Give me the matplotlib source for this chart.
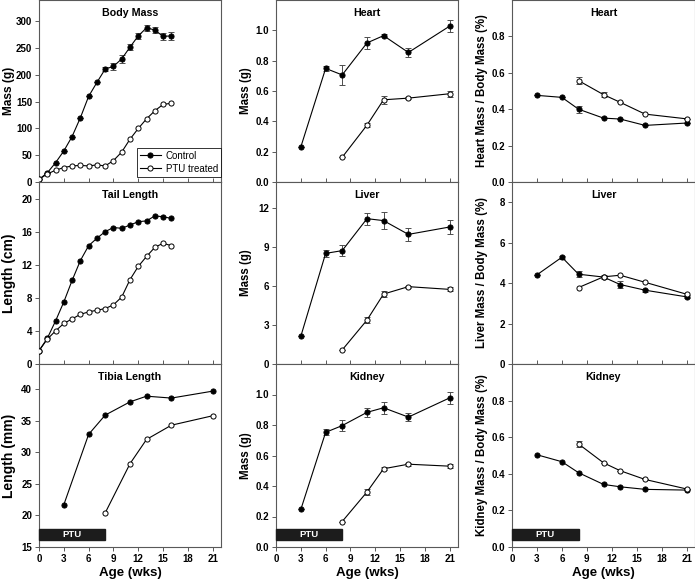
import numpy as np
import matplotlib
matplotlib.use("Agg")
import matplotlib.pyplot as plt
import matplotlib.transforms as mtransforms
from matplotlib.patches import Rectangle

plt.rcParams['font.family'] = ['Liberation Sans', 'DejaVu Sans']
plt.rcParams['font.weight'] = 'bold'

# weekly growth data (left column)
wk = [0, 1, 2, 3, 4, 5, 6, 7, 8, 9, 10, 11, 12, 13, 14, 15, 16]
bm_ctl = [5, 17, 36, 58, 85, 120, 160, 186, 211, 216, 230, 252, 273, 288, 284, 272, 273]
bm_ctl_err = [0, 0, 0, 0, 0, 0, 0, 0, 4, 6, 7, 6, 5, 5, 6, 7, 7]
bm_ptu = [5, 15, 22, 27, 30, 31, 30, 32, 30, 40, 56, 80, 100, 118, 133, 145, 147]
tail_ctl = [1.6, 3.1, 5.2, 7.5, 10.1, 12.5, 14.3, 15.2, 16.0, 16.5, 16.4, 16.8, 17.2, 17.3, 17.9, 17.8, 17.6]
tail_ptu = [1.6, 3.0, 4.0, 4.9, 5.45, 6.0, 6.3, 6.5, 6.7, 7.15, 8.1, 10.2, 11.8, 13.0, 14.1, 14.6, 14.3]

# sampled ages (organ data)
age_ctl = [3, 6, 8, 11, 13, 16, 21]
age_ptu = [8, 11, 13, 16, 21]

tibia_ctl = [21.7, 32.85, 35.9, 38.0, 38.9, 38.6, 39.7]
tibia_ptu = [20.4, 28.2, 32.05, 34.3, 35.8]

heart_ctl = [0.231, 0.749, 0.706, 0.917, 0.965, 0.854, 1.028]
heart_ctl_err = [0, 0.015, 0.068, 0.042, 0.012, 0.027, 0.041]
heart_ptu = [0.163, 0.375, 0.542, 0.553, 0.582]
heart_ptu_err = [0, 0.015, 0.025, 0.008, 0.02]

liver_ctl = [2.13, 8.51, 8.72, 11.18, 11.03, 9.97, 10.54]
liver_ctl_err = [0, 0.25, 0.45, 0.45, 0.63, 0.5, 0.55]
liver_ptu = [1.08, 3.38, 5.38, 5.95, 5.74]
liver_ptu_err = [0, 0.25, 0.2, 0.08, 0.15]

kidney_ctl = [0.246, 0.752, 0.796, 0.883, 0.913, 0.852, 0.978]
kidney_ctl_err = [0, 0.02, 0.035, 0.03, 0.04, 0.025, 0.04]
kidney_ptu = [0.167, 0.361, 0.513, 0.543, 0.530]
kidney_ptu_err = [0, 0.02, 0.01, 0.01, 0.012]

heart_r_ctl = [0.476, 0.465, 0.40, 0.351, 0.346, 0.311, 0.324]
heart_r_ctl_err = [0, 0, 0.02, 0, 0, 0, 0]
heart_r_ptu = [0.557, 0.480, 0.438, 0.373, 0.347]
heart_r_ptu_err = [0.02, 0.015, 0, 0, 0]

liver_r_ctl = [4.41, 5.28, 4.44, 4.30, 3.93, 3.65, 3.32]
liver_r_ctl_err = [0, 0.08, 0.15, 0.1, 0.15, 0.08, 0.08]
liver_r_ptu = [3.78, 4.31, 4.39, 4.04, 3.45]

kidney_r_ctl = [0.504, 0.466, 0.406, 0.342, 0.329, 0.315, 0.311]
kidney_r_ptu = [0.563, 0.460, 0.417, 0.369, 0.317]
kidney_r_ptu_err = [0.015, 0, 0, 0, 0]

fig = plt.figure(figsize=(6.95, 5.82), dpi=100)

W, H = 695.0, 582.0
lefts = [39, 276, 512]
widths = [182, 182, 183]
rows = [(0, 182), (182, 364), (364, 547)]

axes = []
for r in range(3):
    row = []
    for c in range(3):
        top, bot = rows[r]
        ax = fig.add_axes([lefts[c] / W, (H - bot) / H, widths[c] / W, (bot - top) / H])
        row.append(ax)
    axes.append(row)


def series(ax, x, y, err=None, filled=True, label=None):
    fc = 'black' if filled else 'white'
    if err is not None:
        ax.errorbar(x, y, yerr=err, fmt='none', ecolor='0.3', elinewidth=0.7,
                    capsize=2.3, capthick=0.7, zorder=2)
    ax.plot(x, y, '-', color='black', lw=0.8, marker='o', ms=3.7,
            mfc=fc, mec='black', mew=0.7, zorder=3, label=label)


def style(ax, title, ylim, yticks, ylabel, bottom, ylsize=8.3, labx=-0.165):
    ax.set_xlim(0, 22)
    ax.set_ylim(*ylim)
    ax.set_yticks(yticks)
    ax.set_xticks(range(0, 22, 3))
    for s in ax.spines.values():
        s.set_color('0.35')
        s.set_linewidth(0.8)
    ax.tick_params(axis='y', direction='out', length=3, width=0.7, color='0.35',
                   labelsize=7, pad=2)
    if bottom:
        ax.tick_params(axis='x', direction='out', length=3, width=0.7, color='0.35',
                       labelsize=7, pad=2)
        ax.set_xlabel('Age (wks)', fontsize=9.6, fontweight='bold', labelpad=2)
    else:
        ax.tick_params(axis='x', direction='in', length=3, width=0.7, color='0.35',
                       labelbottom=False)
    ax.text(0.5, 0.93, title, transform=ax.transAxes, ha='center', va='center',
            fontsize=7.7, fontweight='bold')
    ax.set_ylabel(ylabel, fontsize=ylsize, fontweight='bold', va='center')
    ax.yaxis.set_label_coords(labx, 0.5)


def ptu_bar(ax):
    tr = mtransforms.blended_transform_factory(ax.transData, ax.transAxes)
    ax.add_patch(Rectangle((0, 0.038), 8, 0.06, transform=tr, color='#1c1c1c',
                           clip_on=False, zorder=4))
    ax.text(4, 0.068, 'PTU', transform=tr, color='white', ha='center', va='center',
            fontsize=6.8, fontweight='bold', zorder=5)


# left column
ax = axes[0][0]
series(ax, wk, bm_ctl, bm_ctl_err, True, 'Control')
series(ax, wk, bm_ptu, None, False, 'PTU treated')
style(ax, 'Body Mass', (0, 340), range(0, 301, 50), 'Mass (g)', False, ylsize=8.6)
leg = ax.legend(loc='lower right', bbox_to_anchor=(1.0, 0.03), fontsize=7,
                frameon=True, fancybox=False, borderaxespad=0, handlelength=2.2,
                borderpad=0.3, labelspacing=0.3, handletextpad=0.5)
leg.get_frame().set_edgecolor('black')
leg.get_frame().set_linewidth(0.7)
for t in leg.get_texts():
    t.set_fontweight('normal')

ax = axes[1][0]
series(ax, wk, tail_ctl, None, True)
series(ax, wk, tail_ptu, None, False)
style(ax, 'Tail Length', (0, 22), range(0, 21, 4), 'Length (cm)', False, ylsize=10)

ax = axes[2][0]
series(ax, age_ctl, tibia_ctl, None, True)
series(ax, age_ptu, tibia_ptu, None, False)
style(ax, 'Tibia Length', (15, 44), range(15, 41, 5), 'Length (mm)', True, ylsize=10)
ptu_bar(ax)

# middle column
ax = axes[0][1]
series(ax, age_ctl, heart_ctl, heart_ctl_err, True)
series(ax, age_ptu, heart_ptu, heart_ptu_err, False)
style(ax, 'Heart', (0, 1.2), np.arange(0, 1.01, 0.2), 'Mass (g)', False)
ax.yaxis.set_major_formatter(plt.FormatStrFormatter('%.1f'))

ax = axes[1][1]
series(ax, age_ctl, liver_ctl, liver_ctl_err, True)
series(ax, age_ptu, liver_ptu, liver_ptu_err, False)
style(ax, 'Liver', (0, 14), range(0, 13, 3), 'Mass (g)', False)

ax = axes[2][1]
series(ax, age_ctl, kidney_ctl, kidney_ctl_err, True)
series(ax, age_ptu, kidney_ptu, kidney_ptu_err, False)
style(ax, 'Kidney', (0, 1.2), np.arange(0, 1.01, 0.2), 'Mass (g)', True)
ax.yaxis.set_major_formatter(plt.FormatStrFormatter('%.1f'))
ptu_bar(ax)

# right column
ax = axes[0][2]
series(ax, age_ctl, heart_r_ctl, heart_r_ctl_err, True)
series(ax, age_ptu, heart_r_ptu, heart_r_ptu_err, False)
style(ax, 'Heart', (0, 1.0), np.arange(0, 0.81, 0.2), 'Heart Mass / Body Mass (%)',
      False, ylsize=8.3)
ax.yaxis.set_major_formatter(plt.FormatStrFormatter('%.1f'))

ax = axes[1][2]
series(ax, age_ctl, liver_r_ctl, liver_r_ctl_err, True)
series(ax, age_ptu, liver_r_ptu, None, False)
style(ax, 'Liver', (0, 9), range(0, 9, 2), 'Liver Mass / Body Mass (%)',
      False, ylsize=8.3)

ax = axes[2][2]
series(ax, age_ctl, kidney_r_ctl, None, True)
series(ax, age_ptu, kidney_r_ptu, kidney_r_ptu_err, False)
style(ax, 'Kidney', (0, 1.0), np.arange(0, 0.81, 0.2), 'Kidney Mass / Body Mass (%)',
      True, ylsize=8.3)
ax.yaxis.set_major_formatter(plt.FormatStrFormatter('%.1f'))
ptu_bar(ax)

fig.savefig('out.png', dpi=100)
